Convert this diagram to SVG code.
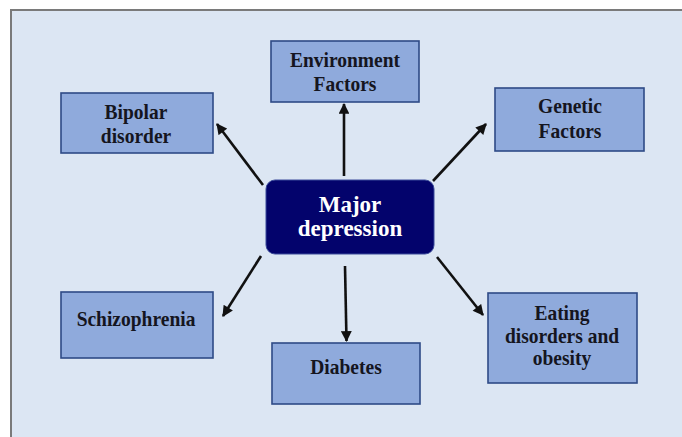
<svg xmlns="http://www.w3.org/2000/svg" width="682" height="437" viewBox="0 0 682 437">
<style>
.box{fill:#8FAADC;stroke:#2E4A86;stroke-width:1.6}
.t{font-family:"Liberation Serif","Times New Roman",serif;font-weight:bold;font-size:19.5px;fill:#151520;text-anchor:middle}
.tw{font-family:"Liberation Serif","Times New Roman",serif;font-weight:bold;font-size:23px;fill:#FFFFFF;text-anchor:middle}
.c{stroke:#111111;stroke-width:2.6;fill:none;marker-end:url(#ah)}
</style>
<defs>
<marker id="ah" viewBox="0 0 10 10" refX="9" refY="5" markerWidth="4.6" markerHeight="4.2" orient="auto" markerUnits="strokeWidth">
<path d="M0,0 L10,5 L0,10 z" fill="#111111"/>
</marker>
</defs>
<rect x="0" y="0" width="682" height="437" fill="#FFFFFF"/>
<rect x="11" y="10" width="690" height="450" fill="#DCE6F3" stroke="#7A7A7A" stroke-width="2"/>
<g id="connectors">
<line class="c" x1="344" y1="176" x2="344" y2="104"/>
<line class="c" x1="263" y1="185" x2="217" y2="124"/>
<line class="c" x1="433" y1="181" x2="486" y2="124"/>
<line class="c" x1="261" y1="256" x2="223" y2="316"/>
<line class="c" x1="345" y1="266" x2="346.5" y2="341"/>
<line class="c" x1="437" y1="257" x2="483" y2="315"/>
</g>
<g id="major-depression">
<rect x="266" y="180" width="168" height="74" rx="9" ry="9" fill="#03036C" stroke="#3A4A9A" stroke-width="1"/>
<text class="tw" x="350" y="211.5">Major</text>
<text class="tw" x="350" y="236">depression</text>
</g>
<g id="environment-factors">
<rect class="box" x="271" y="41" width="148" height="61"/>
<text class="t" transform="translate(345 66.5) scale(1 1.12)">Environment</text>
<text class="t" transform="translate(345 91) scale(1 1.12)">Factors</text>
</g>
<g id="bipolar-disorder">
<rect class="box" x="61" y="93" width="152" height="60"/>
<text class="t" transform="translate(136 119) scale(1 1.12)">Bipolar</text>
<text class="t" transform="translate(136 142.5) scale(1 1.12)">disorder</text>
</g>
<g id="genetic-factors">
<rect class="box" x="495" y="88" width="149" height="63"/>
<text class="t" transform="translate(570 113) scale(1 1.12)">Genetic</text>
<text class="t" transform="translate(570 137.5) scale(1 1.12)">Factors</text>
</g>
<g id="schizophrenia">
<rect class="box" x="61" y="292" width="152" height="66"/>
<text class="t" transform="translate(136 325.5) scale(1 1.12)">Schizophrenia</text>
</g>
<g id="diabetes">
<rect class="box" x="272" y="343" width="148" height="61"/>
<text class="t" transform="translate(346 374) scale(1 1.12)">Diabetes</text>
</g>
<g id="eating-disorders">
<rect class="box" x="488" y="293" width="149" height="90"/>
<text class="t" transform="translate(562 320) scale(1 1.12)">Eating</text>
<text class="t" transform="translate(562 342.5) scale(1 1.12)">disorders and</text>
<text class="t" transform="translate(562 364.5) scale(1 1.12)">obesity</text>
</g>
</svg>
